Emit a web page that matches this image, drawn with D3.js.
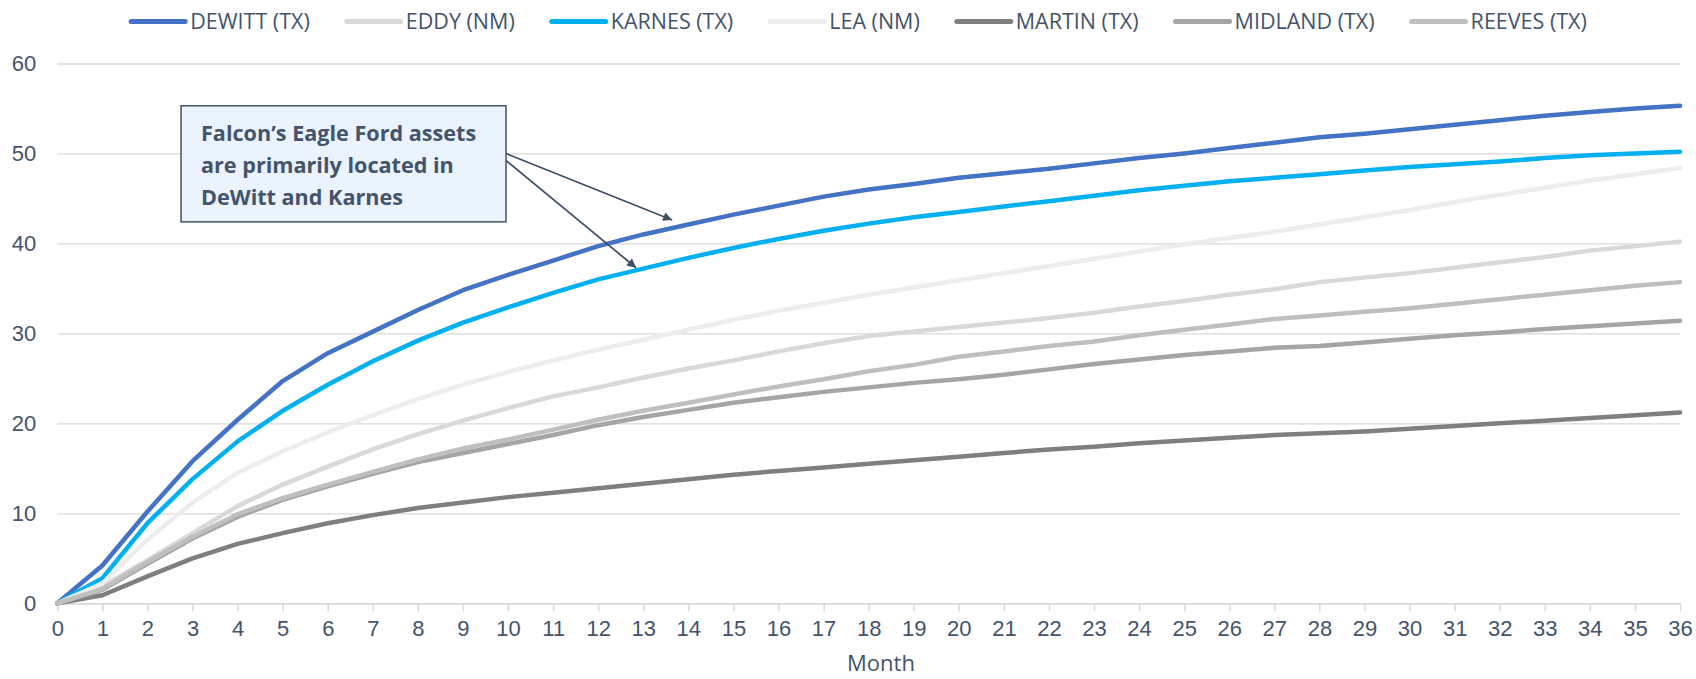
<!DOCTYPE html>
<html>
<head>
<meta charset="utf-8">
<script src="https://cdn.jsdelivr.net/npm/d3@7"></script>
<style>
  html, body { margin: 0; padding: 0; background: #fff; }
  svg { display: block; font-family: 'Open Sans', 'Noto Sans', sans-serif; }
</style>
</head>
<body>
<div id="chart"></div>
<script>
// data
const months = d3.range(0, 37);
const seriesNames = ['DEWITT (TX)', 'EDDY (NM)', 'KARNES (TX)', 'LEA (NM)', 'MARTIN (TX)', 'MIDLAND (TX)', 'REEVES (TX)'];
const seriesColors = ['#4472C4', '#D9D9D9', '#00B0F0', '#EDEDED', '#7F7F7F', '#A5A5A5', '#BFBFBF'];

const dewitt = [0, 4.2, 10.2, 15.8, 20.4, 24.7, 27.8, 30.2, 32.6, 34.8, 36.5, 38.1, 39.7, 41.0, 42.1, 43.2, 44.2, 45.2, 46.0, 46.6, 47.3, 47.8, 48.3, 48.9, 49.5, 50.0, 50.6, 51.2, 51.8, 52.2, 52.7, 53.2, 53.7, 54.2, 54.6, 55.0, 55.3];
const eddy = [0, 1.9, 4.8, 7.8, 10.8, 13.2, 15.2, 17.1, 18.8, 20.3, 21.7, 23.0, 24.0, 25.1, 26.1, 27.0, 28.0, 28.9, 29.7, 30.2, 30.7, 31.2, 31.7, 32.3, 33.0, 33.6, 34.3, 34.9, 35.7, 36.2, 36.7, 37.3, 37.9, 38.5, 39.2, 39.7, 40.2];
const karnes = [0, 2.8, 8.9, 13.8, 18.0, 21.4, 24.3, 26.9, 29.2, 31.2, 32.9, 34.5, 36.0, 37.2, 38.4, 39.5, 40.5, 41.4, 42.2, 42.9, 43.5, 44.1, 44.7, 45.3, 45.9, 46.4, 46.9, 47.3, 47.7, 48.1, 48.5, 48.8, 49.1, 49.5, 49.8, 50.0, 50.2];
const lea = [0, 2.2, 7.1, 11.2, 14.5, 16.9, 19.0, 20.9, 22.7, 24.3, 25.7, 27.0, 28.2, 29.3, 30.4, 31.5, 32.5, 33.4, 34.3, 35.1, 35.9, 36.7, 37.5, 38.3, 39.1, 39.9, 40.6, 41.3, 42.1, 42.9, 43.7, 44.6, 45.4, 46.2, 47.0, 47.7, 48.4];
const martin = [0, 0.9, 3.0, 5.0, 6.6, 7.8, 8.9, 9.8, 10.6, 11.2, 11.8, 12.3, 12.8, 13.3, 13.8, 14.3, 14.7, 15.1, 15.5, 15.9, 16.3, 16.7, 17.1, 17.4, 17.8, 18.1, 18.4, 18.7, 18.9, 19.1, 19.4, 19.7, 20.0, 20.3, 20.6, 20.9, 21.2];
const midland = [0, 1.5, 4.4, 7.2, 9.6, 11.5, 13.0, 14.4, 15.7, 16.7, 17.7, 18.7, 19.8, 20.7, 21.5, 22.3, 22.9, 23.5, 24.0, 24.5, 24.9, 25.4, 26.0, 26.6, 27.1, 27.6, 28.0, 28.4, 28.6, 29.0, 29.4, 29.8, 30.1, 30.5, 30.8, 31.1, 31.4];
const reeves = [0, 1.6, 4.6, 7.4, 9.9, 11.7, 13.2, 14.6, 16.0, 17.2, 18.2, 19.3, 20.4, 21.4, 22.3, 23.2, 24.1, 24.9, 25.8, 26.5, 27.4, 28.0, 28.6, 29.1, 29.8, 30.4, 31.0, 31.6, 32.0, 32.4, 32.8, 33.3, 33.8, 34.3, 34.8, 35.3, 35.7];
const yTicks = [0, 10, 20, 30, 40, 50, 60];

const noteLines = ['Falcon\u2019s Eagle Ford assets', 'are primarily located in', 'DeWitt and Karnes'];

const seriesValues = [dewitt, eddy, karnes, lea, martin, midland, reeves];
const series = seriesNames.map((name, i) => ({
  name: name,
  color: seriesColors[i],
  values: seriesValues[i].map((v, j) => ({ month: months[j], value: v }))
}));

const width = 1696;
const height = 679;
const textColor = '#44546A';
const gridColor = '#D9D9D9';
const fontSize = '22px';

const svg = d3.select('#chart')
  .append('svg')
  .attr('width', width)
  .attr('height', height);

const x = d3.scaleLinear()
  .domain([0, 36])
  .range([57.3, 1680]);

const y = d3.scaleLinear()
  .domain([0, 60])
  .range([603.3, 63.5]);

// gridlines + y labels
const yAxis = svg.append('g')
  .attr('transform', `translate(${x(0)},0)`)
  .call(d3.axisLeft(y).tickValues(yTicks).tickSize(-(x(36) - x(0))).tickPadding(21));
yAxis.select('.domain').remove();
yAxis.selectAll('line').attr('stroke', gridColor).attr('stroke-width', 1.3);
yAxis.selectAll('text')
  .attr('fill', textColor)
  .style('font-size', fontSize);

// x axis
const xAxis = svg.append('g')
  .attr('transform', `translate(0,${y(0)})`)
  .call(d3.axisBottom(x).tickValues(months).tickSize(8).tickPadding(9).tickSizeOuter(0));
xAxis.select('.domain').attr('stroke', gridColor).attr('stroke-width', 1.5);
xAxis.selectAll('line').attr('stroke', gridColor).attr('stroke-width', 1.5);
xAxis.selectAll('text')
  .attr('fill', textColor)
  .style('font-size', fontSize);

svg.append('text')
  .attr('x', 881)
  .attr('y', 671)
  .attr('text-anchor', 'middle')
  .attr('fill', textColor)
  .style('font-size', fontSize)
  .text('Month');

// lines
const line = d3.line()
  .x(d => x(d.month))
  .y(d => y(d.value));

svg.append('g')
  .selectAll('path')
  .data(series)
  .enter()
  .append('path')
  .attr('d', d => line(d.values))
  .attr('fill', 'none')
  .attr('stroke', d => d.color)
  .attr('stroke-width', 4.5)
  .attr('stroke-linejoin', 'round')
  .attr('stroke-linecap', 'round');

// legend
const legend = svg.append('g').attr('transform', 'translate(0,21.5)');
const items = legend.selectAll('g')
  .data(series)
  .enter()
  .append('g');
items.append('line')
  .attr('x1', 0).attr('x2', 54)
  .attr('stroke', d => d.color)
  .attr('stroke-width', 5)
  .attr('stroke-linecap', 'round');
items.append('text')
  .attr('x', 59)
  .attr('dy', '0.35em')
  .attr('fill', textColor)
  .style('font-size', '21.5px')
  .text(d => d.name);

let offset = 0;
const itemPos = [];
items.each(function() {
  itemPos.push(offset);
  offset += this.getBBox().width + 37;
});
const legendStart = 859 - (offset - 37) / 2;
items.attr('transform', (d, i) => `translate(${legendStart + itemPos[i]},0)`);

// annotation
const defs = svg.append('defs');
defs.append('marker')
  .attr('id', 'arrow')
  .attr('viewBox', '0 0 10 10')
  .attr('refX', 10)
  .attr('refY', 5)
  .attr('markerWidth', 11)
  .attr('markerHeight', 9)
  .attr('markerUnits', 'userSpaceOnUse')
  .attr('orient', 'auto')
  .append('path')
  .attr('d', 'M0,0 L10,5 L0,10 Z')
  .attr('fill', '#3E4F66');

const box = { left: x(2.745), right: x(9.955), top: y(55.3), bottom: y(42.4) };
const note = svg.append('g');

const arrows = [
  { from: [box.right, 153.5], to: [x(13.64), y(42.6)] },
  { from: [box.right, 160.5], to: [x(12.84), y(37.3)] }
];
note.selectAll('line')
  .data(arrows)
  .enter()
  .append('line')
  .attr('x1', d => d.from[0])
  .attr('y1', d => d.from[1])
  .attr('x2', d => d.to[0])
  .attr('y2', d => d.to[1])
  .attr('stroke', '#3E4F66')
  .attr('stroke-width', 1.7)
  .attr('marker-end', 'url(#arrow)');

note.append('rect')
  .attr('x', box.left)
  .attr('y', box.top)
  .attr('width', box.right - box.left)
  .attr('height', box.bottom - box.top)
  .attr('fill', '#EAF3FE')
  .attr('stroke', '#44546A')
  .attr('stroke-width', 1.5);

note.selectAll('text')
  .data(noteLines)
  .enter()
  .append('text')
  .attr('x', box.left + 20)
  .attr('y', (d, i) => box.top + 35.5 + i * 31.8)
  .attr('fill', textColor)
  .style('font-size', '21.6px')
  .style('font-weight', 'bold')
  .text(d => d);
</script>
</body>
</html>
